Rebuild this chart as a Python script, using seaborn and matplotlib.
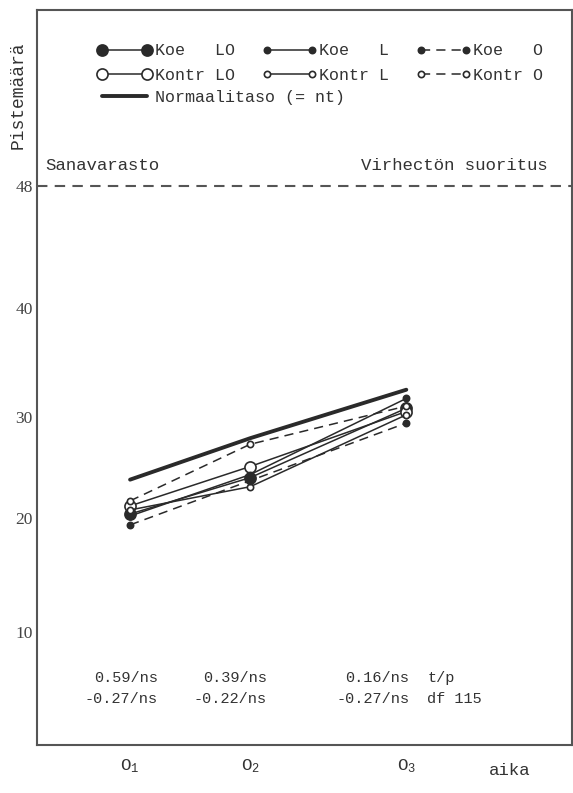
import numpy as np
import pandas as pd
import matplotlib
matplotlib.use("Agg")
import matplotlib.pyplot as plt
import matplotlib.transforms as mtransforms
import seaborn as sns

# ---- data ----
mittaukset = ["O$_1$", "O$_2$", "O$_3$"]
aika = [1.0, 2.0, 3.3]          # measurement occasions (uneven spacing as in original)

koe_lo = [20.4, 24.0, 30.8]
koe_l = [20.2, 24.3, 31.7]
koe_o = [19.4, 23.7, 29.4]
kontr_lo = [21.2, 25.1, 30.5]
kontr_l = [20.8, 23.1, 30.2]
kontr_o = [21.7, 27.3, 31.0]
normaalitaso = [23.8, 27.9, 32.5]

maksimi = 48
y_ticks = [10, 20, 30, 40, 48]
t_rivi1 = ["0.59/ns", "0.39/ns", "0.16/ns"]
t_rivi2 = ["-0.27/ns", "-0.22/ns", "-0.27/ns"]

# ---- style ----
sns.set_theme(style="white")
plt.rcParams["font.family"] = ["Liberation Mono", "DejaVu Sans"]
plt.rcParams["mathtext.default"] = "regular"
INK = "#2a2a2a"
GREY = "#555555"
TXT = "#333333"

fig = plt.figure(figsize=(5.73, 7.93), dpi=100)
ax = fig.add_axes([0.0646, 0.0605, 0.9337, 0.9269])

# the hand-drawn y axis of the original is not evenly spaced
knot_v = [0, 10, 20, 30, 40, 48, 60]
knot_f = [0, 0.1537, 0.3088, 0.4463, 0.5946, 0.7605, 1.0]
ax.set_yscale("function",
              functions=(lambda v: np.interp(v, knot_v, knot_f),
                         lambda f: np.interp(f, knot_f, knot_v)))

DASH = (0, (6, 4))
sarjat = [
    ("Koe   LO", koe_lo, dict(marker="o", ms=8, mfc=INK, linestyle="-")),
    ("Kontr LO", kontr_lo, dict(marker="o", ms=8, mfc="white", linestyle="-")),
    ("Koe   L", koe_l, dict(marker="o", ms=4.5, mfc=INK, linestyle="-")),
    ("Kontr L", kontr_l, dict(marker="o", ms=4.5, mfc="white", linestyle="-")),
    ("Koe   O", koe_o, dict(marker="o", ms=4.5, mfc=INK, linestyle=DASH)),
    ("Kontr O", kontr_o, dict(marker="o", ms=4.5, mfc="white", linestyle=DASH)),
    ("Normaalitaso (= nt)", normaalitaso, dict(marker=None, lw=2.8, linestyle="-")),
]

for nimi, arvot, tyyli in sarjat:
    df = pd.DataFrame({"aika": aika, "pisteet": arvot})
    kw = dict(color=INK, lw=1.1, mec=INK, mew=1.2)
    kw.update(tyyli)
    sns.lineplot(data=df, x="aika", y="pisteet", label=nimi, ax=ax, **kw)

# level of flawless performance
ax.axhline(maksimi, color=GREY, lw=1.5, linestyle=(0, (5, 3.5)))
blend = mtransforms.blended_transform_factory(ax.transAxes, ax.transData)
ax.text(0.015, maksimi + 0.9, "Sanavarasto", transform=blend, fontsize=12.5,
        color=TXT, va="bottom", ha="left")
ax.text(0.955, maksimi + 0.9, "Virhectön suoritus", transform=blend, fontsize=12.5,
        color=TXT, va="bottom", ha="right")

# t-test results under each occasion
siirto = [20, 12, 2]   # text offsets from the tick, points
for x, r1, r2, dx in zip(aika, t_rivi1, t_rivi2, siirto):
    for r, yy in ((r1, 0.091), (r2, 0.063)):
        ax.annotate(r, xy=(x, yy), xycoords=("data", "axes fraction"),
                    xytext=(dx, 0), textcoords="offset points",
                    ha="right", va="center", fontsize=11, color=TXT)
for r, yy in (("t/p", 0.091), ("df 115", 0.063)):
    ax.annotate(r, xy=(aika[-1], yy), xycoords=("data", "axes fraction"),
                xytext=(15, 0), textcoords="offset points",
                ha="left", va="center", fontsize=11, color=TXT)

# axes
ax.set_xlim(0.225, 4.68)
ax.set_ylim(0, 60)
ax.set_xticks(aika)
ax.set_xticklabels(mittaukset, fontsize=12.5, color=TXT)
ax.set_yticks(y_ticks)
ax.set_yticklabels([str(v) for v in y_ticks], fontsize=12.5, color="#444444",
                   family=["Liberation Serif"])
ax.tick_params(axis="both", direction="in", length=6, width=1.2, colors=GREY)
ax.tick_params(axis="x", pad=9, labelcolor=TXT)
ax.tick_params(axis="y", pad=3, labelcolor="#444444")
ax.set_xlabel("")
ax.set_ylabel("")
ax.text(0.884, -0.034, "aika", transform=ax.transAxes, fontsize=12.5,
        color=TXT, ha="center", va="center")
fig.text(0.031, 0.88, "Pistemäärä", rotation=90, fontsize=13,
         color=TXT, ha="center", va="center")

for s in ax.spines.values():
    s.set_color(GREY)
    s.set_linewidth(1.5)

# legend: 3x2 block for the groups, one row for the norm level below
kahvat, nimet = ax.get_legend_handles_labels()
leg1 = ax.legend(kahvat[:6], nimet[:6], loc="upper left", bbox_to_anchor=(0.085, 0.975),
                 ncol=3, frameon=False, numpoints=2, handlelength=3.3,
                 handletextpad=0.15, columnspacing=1.6, labelspacing=0.55,
                 fontsize=12, labelcolor=TXT)
ax.add_artist(leg1)
ax.legend(kahvat[6:], nimet[6:], loc="upper left", bbox_to_anchor=(0.085, 0.912),
          frameon=False, numpoints=2, handlelength=3.3, handletextpad=0.15,
          fontsize=12, labelcolor=TXT)

fig.savefig("out.png", dpi=100)
